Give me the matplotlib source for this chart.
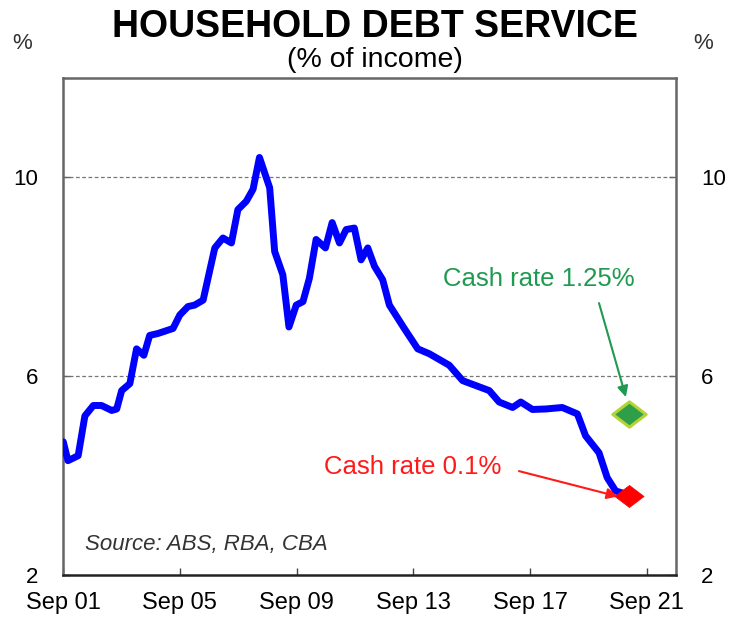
import numpy as np
import matplotlib.pyplot as plt
from matplotlib.path import Path

plt.rcParams['font.family'] = ['Liberation Sans', 'DejaVu Sans']

# quarterly household debt service ratio, % of income (decimal years)
dates = [2001.76, 2001.92, 2002.27, 2002.50, 2002.79, 2003.07, 2003.42, 2003.59,
         2003.76, 2004.04, 2004.27, 2004.52, 2004.72, 2005.01, 2005.52, 2005.75,
         2006.03, 2006.26, 2006.55, 2006.95, 2007.23, 2007.52, 2007.74, 2008.03,
         2008.26, 2008.48, 2008.83, 2009.00, 2009.28, 2009.49, 2009.74, 2009.97,
         2010.19, 2010.42, 2010.74, 2010.97, 2011.22, 2011.45, 2011.73, 2011.96,
         2012.19, 2012.42, 2012.70, 2012.93, 2013.44, 2013.90, 2014.30, 2014.98,
         2015.44, 2016.35, 2016.69, 2017.15, 2017.43, 2017.83, 2018.29, 2018.85,
         2019.37, 2019.65, 2020.11, 2020.39, 2020.68, 2020.91]
debt_service = [4.68, 4.30, 4.40, 5.20, 5.41, 5.41, 5.31, 5.34,
                5.71, 5.85, 6.55, 6.42, 6.82, 6.86, 6.96, 7.23,
                7.40, 7.43, 7.53, 8.58, 8.78, 8.68, 9.35, 9.52,
                9.76, 10.40, 9.79, 8.51, 8.04, 6.99, 7.43, 7.50,
                7.97, 8.75, 8.58, 9.09, 8.68, 8.95, 8.98, 8.34,
                8.58, 8.21, 7.94, 7.43, 6.96, 6.55, 6.45, 6.22,
                5.91, 5.71, 5.48, 5.37, 5.48, 5.33, 5.34, 5.37,
                5.24, 4.80, 4.46, 3.96, 3.69, 3.65]

# scenario points
scenario_date = 2021.13
cash_low = 3.58     # cash rate 0.1%
cash_high = 5.24    # cash rate 1.25%

tick_years = [2001.75, 2005.75, 2009.75, 2013.75, 2017.75, 2021.75]
tick_labels = ['Sep 01', 'Sep 05', 'Sep 09', 'Sep 13', 'Sep 17', 'Sep 21']

fig = plt.figure(figsize=(7.29, 6.19), dpi=100)
ax = fig.add_axes([0.0864, 0.0711, 0.8410, 0.803])

ax.plot(dates, debt_service, color='#0000ff', lw=5, solid_joinstyle='round',
        solid_capstyle='round', zorder=3)

# flattened diamond marker
diamond = Path([(-1, 0), (0, 0.76), (1, 0), (0, -0.76), (-1, 0)],
               [Path.MOVETO, Path.LINETO, Path.LINETO, Path.LINETO, Path.CLOSEPOLY])
ax.plot([scenario_date], [cash_high], marker=diamond, ms=24, color='#2e9e48',
        mec='#b5d334', mew=2.2, ls='none', zorder=4)
ax.plot([scenario_date], [cash_low], marker=diamond, ms=21, color='#ff0000',
        mec='#ff0000', mew=0.5, ls='none', zorder=4)

ax.text(2018.06, 7.95, 'Cash rate 1.25%', color='#1f9a50', fontsize=18.5,
        ha='center', va='center')
ax.annotate('', xy=(2021.03, 5.58), xytext=(2020.11, 7.47),
            arrowprops=dict(arrowstyle='-|>', color='#1f9a50', lw=1.5,
                            mutation_scale=16, shrinkA=0, shrinkB=0))
ax.text(2013.72, 4.17, 'Cash rate 0.1%', color='#ff1a1a', fontsize=18.5,
        ha='center', va='center')
ax.annotate('', xy=(2020.75, 3.58), xytext=(2017.37, 4.09),
            arrowprops=dict(arrowstyle='-|>', color='#ff1a1a', lw=1.5,
                            mutation_scale=16, shrinkA=0, shrinkB=0))

ax.text(2002.5, 2.62, 'Source: ABS, RBA, CBA', style='italic', fontsize=16,
        color='#333333', ha='left', va='center')

ax.set_xlim(2001.75, 2022.75)
ax.set_ylim(2, 12)
ax.set_xticks(tick_years)
ax.set_xticklabels(tick_labels)
ax.set_yticks([2, 6, 10])
ax.set_yticklabels(['2', '6', '10'])
for y in [6, 10]:
    ax.axhline(y, color='#777777', lw=0.9, ls=(0, (3, 2)), zorder=1)

ax.tick_params(axis='x', direction='in', length=5, width=1, pad=12,
               labelsize=17, color='#444444')
ax.tick_params(axis='y', direction='in', length=5, width=1, pad=18,
               labelsize=16, color='#666666',
               left=True, right=True, labelleft=True, labelright=True)

for side in ['left', 'right', 'top']:
    ax.spines[side].set_color('#666666')
    ax.spines[side].set_linewidth(1.8)
ax.spines['bottom'].set_color('#222222')
ax.spines['bottom'].set_linewidth(1.8)

fig.text(0.514, 0.956, 'HOUSEHOLD DEBT SERVICE', fontsize=27, fontweight='bold',
         ha='center', va='center')
fig.text(0.514, 0.903, '(% of income)', fontsize=20.5, ha='center', va='center')
fig.text(0.030, 0.929, '%', fontsize=16, ha='center', va='center', color='#333333')
fig.text(0.964, 0.929, '%', fontsize=16, ha='center', va='center', color='#333333')

fig.savefig('out.png', dpi=100)
